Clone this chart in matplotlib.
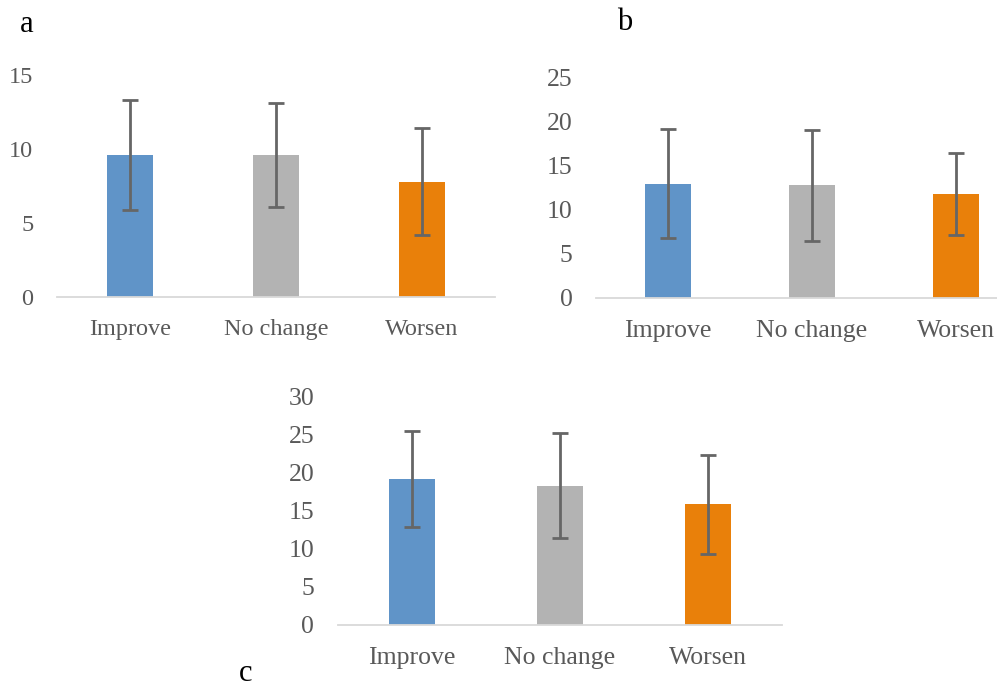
import numpy as np
import matplotlib.pyplot as plt

categories = ["Improve", "No change", "Worsen"]
colors = ["#6094C8", "#B3B3B3", "#E9800A"]

# panel a
a_means = [9.6, 9.6, 7.8]
a_err = [3.7, 3.5, 3.6]
# panel b
b_means = [13.0, 12.8, 11.8]
b_err = [6.2, 6.3, 4.7]
# panel c
c_means = [19.2, 18.3, 15.9]
c_err = [6.3, 6.9, 6.5]

text_color = "#595959"
font = "Liberation Serif"


def panel(rect, means, errs, ymax, step, fsize):
    ax = fig.add_axes(rect)
    x = np.arange(len(categories))
    ax.bar(x, means, width=0.315, color=colors, zorder=2)
    ax.errorbar(x, means, yerr=errs, fmt="none", ecolor="#666666",
                elinewidth=2, capsize=5.8, capthick=2, zorder=3)
    ax.set_xlim(-0.5, len(categories) - 0.5)
    ax.set_ylim(0, ymax)
    ax.set_yticks(np.arange(0, ymax + 1, step))
    ax.set_xticks(x)
    ax.set_xticklabels(categories)
    for s in ["top", "left", "right"]:
        ax.spines[s].set_visible(False)
    ax.spines["bottom"].set_color("#D9D9D9")
    ax.spines["bottom"].set_linewidth(1.3)
    ax.tick_params(axis="both", length=0, colors=text_color, labelsize=fsize)
    ax.tick_params(axis="y", pad=17)
    ax.tick_params(axis="x", pad=16)
    for lab in ax.get_xticklabels() + ax.get_yticklabels():
        lab.set_fontfamily(font)
    return ax


fig = plt.figure(figsize=(9.97, 6.89), dpi=100)
panel([0.0572, 0.569, 0.4393, 0.322], a_means, a_err, 15, 5, 17.5)
panel([0.598, 0.5675, 0.433, 0.3195], b_means, b_err, 25, 5, 18.5)
panel([0.339, 0.0929, 0.4453, 0.331], c_means, c_err, 30, 5, 18.5)

fig.text(0.027, 0.965, "a", fontsize=22, family=font, va="center", ha="center")
fig.text(0.627, 0.968, "b", fontsize=22, family=font, va="center", ha="center")
fig.text(0.246, 0.022, "c", fontsize=22, family=font, va="center", ha="center")

fig.savefig("out.png", dpi=100)
